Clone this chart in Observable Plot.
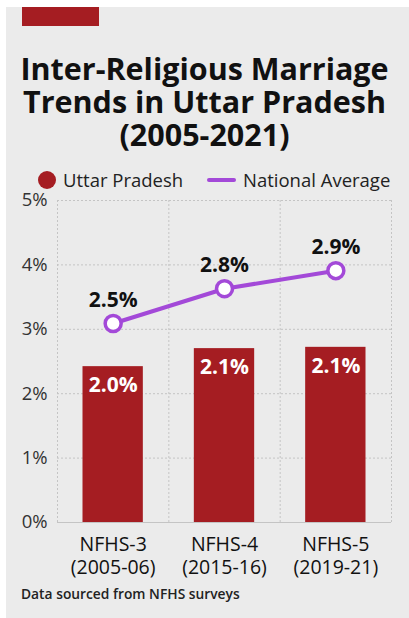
<!DOCTYPE html>
<html>
<head>
<meta charset="utf-8">
<script src="https://cdn.jsdelivr.net/npm/d3@7"></script>
<script src="https://cdn.jsdelivr.net/npm/@observablehq/plot@0.6"></script>
<style>
  html, body { margin: 0; padding: 0; background: #fff; width: 409px; height: 618px; overflow: hidden; }
  #bg { position: absolute; left: 6px; top: 7px; width: 403px; height: 611px; background: #ebebeb; }
  #tab { position: absolute; left: 22px; top: 7px; width: 77px; height: 19px; background: #a51d22; }
  #title { position: absolute; left: 0; top: 52px; width: 409px; text-align: center;
    font-family: "Open Sans", sans-serif; font-weight: 700; font-size: 30.5px; line-height: 33px; color: #111; }
  #legend { position: absolute; top: 168px; left: 0; width: 409px; height: 24px;
    font-family: "Open Sans", sans-serif; font-size: 18.5px; color: #222; }
  .li { position: absolute; top: 0; line-height: 24px; white-space: nowrap; }
  .dot { position: absolute; width: 18px; height: 18px; border-radius: 50%; background: #a51d22; top: 3px; }
  .ln { position: absolute; width: 29px; height: 4px; background: #a349d8; top: 10px; border-radius: 2px; }
  #chart { position: absolute; left: 0; top: 190px; }
  #caption { position: absolute; left: 21px; top: 584px; font-family: "Open Sans", sans-serif;
    font-size: 13.8px; font-weight: 600; color: #222; }
</style>
</head>
<body>
<div id="bg"></div>
<div id="tab"></div>
<div id="title">Inter-Religious Marriage<br>Trends in Uttar Pradesh<br>(2005-2021)</div>
<div id="legend"></div>
<div id="chart"></div>
<div id="caption">Data sourced from NFHS surveys</div>
<script>
// ---- data ----
const surveys = ["NFHS-3", "NFHS-4", "NFHS-5"];
const periods = ["(2005-06)", "(2015-16)", "(2019-21)"];
const seriesNames = ["Uttar Pradesh", "National Average"];
// bar / point heights as drawn against the axis
const upValues = [2.42, 2.70, 2.72];
const natValues = [3.09, 3.63, 3.91];
// value labels as printed in the chart
const upLabels = ["2.0%", "2.1%", "2.1%"];
const natLabels = ["2.5%", "2.8%", "2.9%"];
const yTicks = [0, 1, 2, 3, 4, 5];

const RED = "#a51d22";
const PURPLE = "#a349d8";

const rows = surveys.map((s, i) => ({
  i, survey: s, period: periods[i],
  up: upValues[i], nat: natValues[i],
  upLabel: upLabels[i], natLabel: natLabels[i]
}));

// legend
const legend = document.getElementById("legend");
legend.innerHTML =
  `<div class="dot" style="left:38px"></div><div class="li" style="left:63px">${seriesNames[0]}</div>` +
  `<div class="ln" style="left:207px"></div><div class="li" style="left:243px">${seriesNames[1]}</div>`;

const chart = Plot.plot({
  width: 409,
  height: 395,
  marginLeft: 57,
  marginRight: 18,
  marginTop: 10,
  marginBottom: 63,
  style: { background: "transparent", fontFamily: "Open Sans, sans-serif", overflow: "visible" },
  x: { type: "linear", domain: [0, surveys.length], axis: null },
  y: { domain: [0, 5], axis: null },
  marks: [
    // grid
    Plot.ruleY(yTicks.slice(1), { stroke: "#c4c4c4", strokeWidth: 1, strokeDasharray: "2,2" }),
    Plot.ruleX(d3.range(surveys.length + 1), { stroke: "#c4c4c4", strokeWidth: 1, strokeDasharray: "2,2" }),
    // y axis labels
    Plot.axisY({ ticks: yTicks, tickFormat: d => d + "%", tickSize: 0, tickPadding: 10,
      fontSize: 18.5, color: "#333", label: null }),
    // bars
    Plot.rectY(rows, { x1: "i", x2: d => d.i + 1, y: "up", fill: RED, insetLeft: 25.5, insetRight: 25.5 }),
    Plot.ruleY([0], { stroke: "#c4c4c4", strokeWidth: 1.2 }),
    Plot.text(rows, { x: d => d.i + 0.5, y: "up", text: "upLabel", dy: 19, fill: "#fff",
      fontSize: 21, fontWeight: 700 }),
    // national average line
    Plot.line(rows, { x: d => d.i + 0.5, y: "nat", stroke: PURPLE, strokeWidth: 4 }),
    Plot.dot(rows, { x: d => d.i + 0.5, y: "nat", r: 8, fill: "#fff", stroke: PURPLE, strokeWidth: 3.5 }),
    Plot.text(rows, { x: d => d.i + 0.5, y: "nat", text: "natLabel", dy: -23, fill: "#111",
      fontSize: 21, fontWeight: 700 }),
    // x category labels
    Plot.axisX({ ticks: rows.map(d => d.i + 0.5), tickFormat: (d, k) => surveys[k] + "\n" + periods[k],
      tickSize: 0, tickPadding: 13, fontSize: 19.5, lineHeight: 1.15, color: "#111", label: null })
  ]
});
document.getElementById("chart").appendChild(chart);
</script>
</body>
</html>
